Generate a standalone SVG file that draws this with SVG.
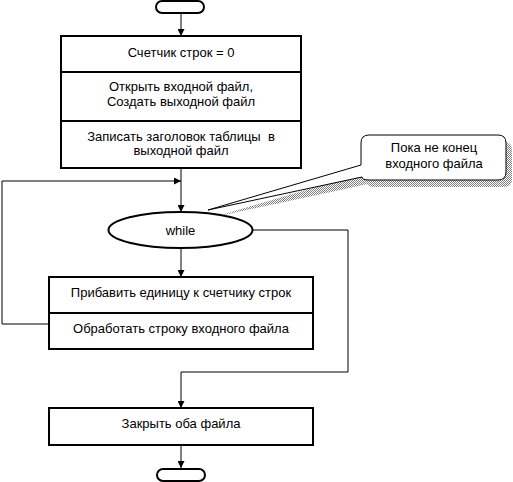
<svg xmlns="http://www.w3.org/2000/svg" width="513" height="482" viewBox="0 0 513 482">
<style>
.n{fill:#fff;stroke:#000;stroke-width:2}
.c{fill:none;stroke:#000;stroke-width:1}
text{font-family:"Liberation Sans",Arial,sans-serif;font-size:13px;fill:#000;text-anchor:middle}
</style>
<defs>
<marker id="a" viewBox="0 0 10 10" refX="10" refY="5" markerWidth="7" markerHeight="7" markerUnits="userSpaceOnUse" orient="auto">
<path d="M0,0 L10,5 L0,10 Z" fill="#000"/>
</marker>
<pattern id="dot" width="2" height="2" patternUnits="userSpaceOnUse">
<rect width="2" height="2" fill="#fff"/>
<rect width="1" height="1" fill="#808080"/>
<rect x="1" y="1" width="1" height="1" fill="#808080"/>
</pattern>
</defs>
<rect width="513" height="482" fill="#fff"/>
<g id="connectors">
<path class="c" d="M181,13 V36" marker-end="url(#a)"/>
<path class="c" d="M181,168 V212" marker-end="url(#a)"/>
<path class="c" d="M49,324 H2 V181 H181" marker-end="url(#a)"/>
<path class="c" d="M181,248 V277" marker-end="url(#a)"/>
<path class="c" d="M253,230 H348 V372 H181 V408" marker-end="url(#a)"/>
<path class="c" d="M181,445 V468" marker-end="url(#a)"/>
</g>
<g id="start">
<rect class="n" x="156" y="1" width="48" height="12" rx="6"/>
</g>
<g id="init">
<rect class="n" x="61" y="36" width="240" height="132"/>
<line class="n" x1="61" y1="72" x2="301" y2="72"/>
<line class="n" x1="61" y1="121" x2="301" y2="121"/>
<text x="181" y="57">Счетчик строк = 0</text>
<text x="181" y="91">Открыть входной файл,</text>
<text x="181" y="106">Создать выходной файл</text>
<text x="181" y="141" xml:space="preserve">Записать заголовок таблицы  в</text>
<text x="181" y="155">выходной файл</text>
</g>
<g id="callout">
<path fill="url(#dot)" d="M375,142 H504 Q512,142 512,150 V179 Q512,187 504,187 H375 Q368,187 368,184 L214,217 L367,172 V150 Q367,142 375,142 Z"/>
<path fill="#fff" stroke="#000" stroke-width="1" d="M369,135 H498 Q506,135 506,143 V172 Q506,180 498,180 H369 Q362,180 362,177 L208,210 L361,165 V143 Q361,135 369,135 Z"/>
<text x="434" y="152">Пока не конец</text>
<text x="434" y="168">входного файла</text>
</g>
<g id="while">
<ellipse class="n" cx="180.5" cy="230" rx="72" ry="18"/>
<text x="180.5" y="235">while</text>
</g>
<g id="body">
<rect class="n" x="49" y="277" width="264" height="72"/>
<line class="n" x1="49" y1="313" x2="313" y2="313"/>
<text x="181" y="297">Прибавить единицу к счетчику строк</text>
<text x="181" y="333">Обработать строку входного файла</text>
</g>
<g id="close">
<rect class="n" x="49" y="408" width="264" height="37"/>
<text x="181" y="428">Закрыть оба файла</text>
</g>
<g id="end">
<rect class="n" x="157" y="469" width="48" height="12" rx="6"/>
</g>
</svg>
